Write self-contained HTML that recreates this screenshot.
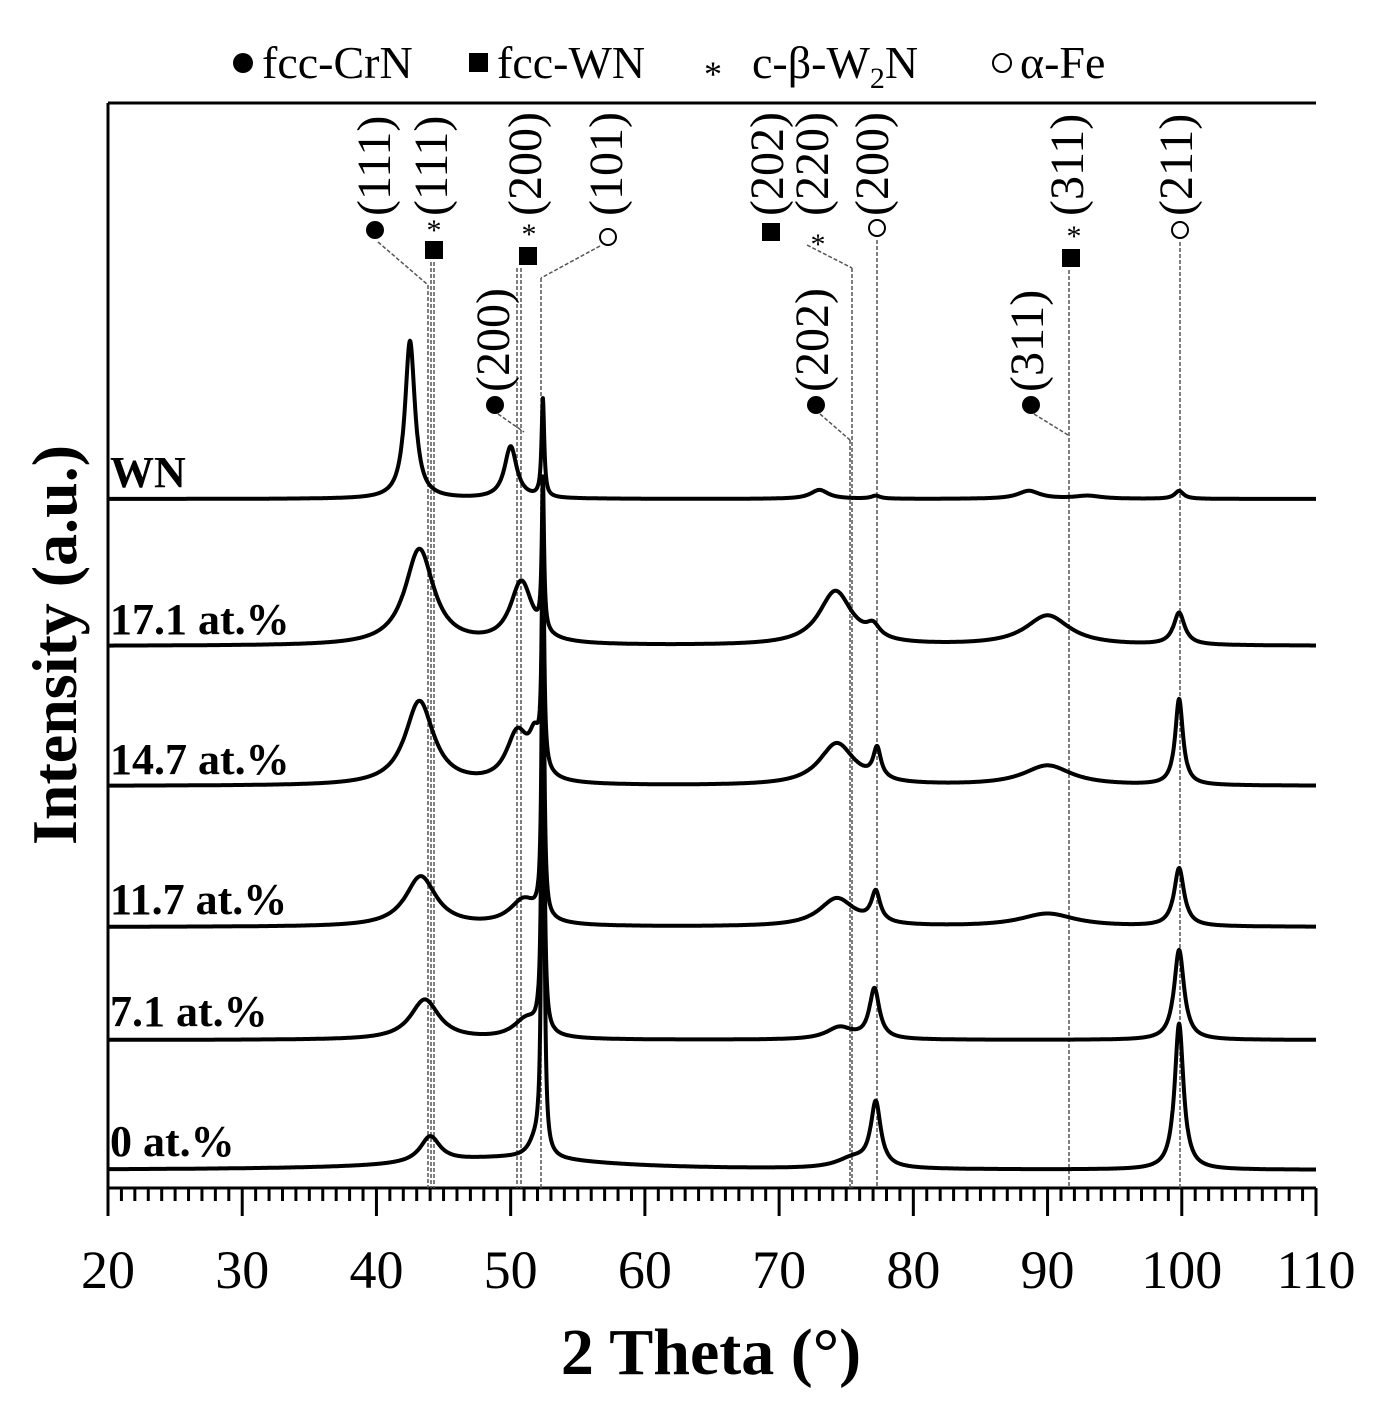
<!DOCTYPE html>
<html><head><meta charset="utf-8"><style>
html,body{margin:0;padding:0;background:#fff}
svg{display:block;font-family:"Liberation Serif",serif}
</style></head><body>
<svg id="chart" width="1392" height="1404" viewBox="0 0 1392 1404" xmlns="http://www.w3.org/2000/svg">
<g id="legend" font-size="46">
 <circle cx="243" cy="63" r="10" fill="#000"/>
 <text x="262" y="78">fcc-CrN</text>
 <rect x="469" y="53" width="19" height="19" fill="#000"/>
 <text x="497" y="78">fcc-WN</text>
 <text x="704" y="86" font-size="36">*</text>
 <text x="752" y="78">c-β-W<tspan font-size="30" dy="10">2</tspan><tspan dy="-10">N</tspan></text>
 <circle cx="1002" cy="63" r="9" fill="none" stroke="#000" stroke-width="2"/>
 <text x="1020" y="78">α-Fe</text>
</g>
<g id="frame" stroke="#000" stroke-width="3" fill="none">
 <line x1="108" y1="103" x2="1316" y2="103"/>
 <line x1="108" y1="103" x2="108" y2="1216"/>
 <line x1="108" y1="1188" x2="1316" y2="1188"/>
</g>
<g id="ticks"></g>
<g id="annot"></g>
<g id="series"></g>
<text transform="translate(76,645) rotate(-90)" text-anchor="middle" font-size="64" font-weight="bold">Intensity (a.u.)</text>
<text x="711" y="1374" text-anchor="middle" font-size="66" font-weight="bold">2 Theta (°)</text>
</svg>
<script>
const NS="http://www.w3.org/2000/svg";
const tickValues=[20,30,40,50,60,70,80,90,100,110];
const seriesNames=["WN","17.1 at.%","14.7 at.%","11.7 at.%","7.1 at.%","0 at.%"];
const baselines=[499,646,786,927,1040,1170];
const labelY=[487,634,774,914,1026,1156];
// peaks: [center(2θ), height(px), halfwidth(°)]
const peaksWN=[[42.5,158,0.45],[50.0,52,0.55],[52.4,98,0.12],[73.0,9,0.8],[77.2,3,0.4],[88.6,8,1.0],[93,3,1.2],[99.8,8,0.4]];
const peaks171=[[43.2,96,1.3],[50.8,62,1.0],[52.4,150,0.1],[74.2,54,1.5],[77.0,12,0.6],[90.0,30,2.0],[99.8,32,0.5]];
const peaks147=[[43.2,84,1.3],[50.5,50,1.0],[51.8,36,0.5],[52.4,250,0.1],[74.3,42,1.6],[77.3,30,0.35],[90.0,20,2.2],[99.8,86,0.35]];
const peaks117=[[43.3,50,1.4],[51.0,26,1.3],[52.4,380,0.1],[74.3,28,1.6],[77.2,30,0.4],[90.0,13,2.5],[99.8,58,0.45]];
const peaks71=[[43.6,40,1.3],[51.2,20,1.2],[52.4,490,0.1],[74.5,12,1.2],[77.1,50,0.45],[99.8,90,0.45]];
const peaks0=[[44.0,26,0.9],[50.0,12,8],[51.8,14,0.6],[52.4,640,0.1],[75.5,10,1.5],[77.2,64,0.45],[99.8,146,0.4]];
const allPeaks=[peaksWN,peaks171,peaks147,peaks117,peaks71,peaks0];
const X0=20,X1=110,PX0=108,PX1=1316;
function xs(v){return PX0+(v-X0)/(X1-X0)*(PX1-PX0);}
function mk(tag,attrs,parent){const e=document.createElementNS(NS,tag);for(const k in attrs)e.setAttribute(k,attrs[k]);parent.appendChild(e);return e;}
const tg=document.getElementById('ticks');
for(let v=20;v<=110;v++){
 const major=v%10===0;
 const l=mk('line',{x1:xs(v),x2:xs(v),y1:1188,y2:major?1216:1201,stroke:'#000','stroke-width':3},tg);
 
 
}
tickValues.forEach(v=>{
 const t=mk('text',{x:xs(v),y:1288,'text-anchor':'middle','font-size':54},tg);
 
 
 t.textContent=v;
});
const sg=document.getElementById('series');
allPeaks.forEach((pk,i)=>{
 let d="";
 for(let x=20;x<=110.001;x+=0.03){
  let y=baselines[i];
  for(const p of pk){const u=(x-p[0])/p[2];y-=p[1]/(1+u*u);}
  d+=(d?"L":"M")+xs(x).toFixed(1)+","+y.toFixed(1);
 }
 const p=mk('path',{d:d,fill:'none',stroke:'#000','stroke-width':4,'stroke-linejoin':'round'},sg);
 
 
 const t=mk('text',{x:110,y:labelY[i],'font-size':44,'font-weight':'bold'},sg);
 
 
 t.textContent=seriesNames[i];
});
const ag=document.getElementById('annot');
function vline(x,y1){const l=mk('line',{x1:x,x2:x,y1:y1,y2:1188,stroke:'#555','stroke-width':1.5,'stroke-dasharray':'4,2'},ag);}
function lead(x1,y1,x2,y2){const l=mk('line',{x1,y1,x2,y2,stroke:'#555','stroke-width':1.5,'stroke-dasharray':'4,2'},ag);}
function lbl(x,yb,txt){const t=mk('text',{transform:`translate(${x+15},${yb}) rotate(-90)`,'font-size':48},ag);t.textContent=txt;}
function dot(x,y){const c=mk('circle',{cx:x,cy:y,r:9,fill:'#000'},ag);}
function ring(x,y){const c=mk('circle',{cx:x,cy:y,r:8,fill:'#fff',stroke:'#000','stroke-width':2},ag);}
function sq(x,y){const r=mk('rect',{x:x-9,y:y-9,width:18,height:18,fill:'#000'},ag);}
function star(x,y){const t=mk('text',{x:x,y:y+14,'text-anchor':'middle','font-size':30},ag);t.textContent='*';}
lbl(375,216,'(111)');dot(375,230);lead(378,242,428,285);vline(428,285);vline(431,262);
lbl(432,216,'(111)');star(434,226);sq(434,250);vline(434,262);
lbl(526,216,'(200)');star(529,230);sq(528,256);vline(517,268);vline(521,268);
lbl(607,216,'(101)');ring(608,237);lead(600,246,541,278);vline(541,278);
lbl(768,216,'(202)');sq(771,232);
lbl(813,216,'(220)');star(818,240);lead(807,245,852,268);vline(852,268);
lbl(873,216,'(200)');ring(877,228);vline(877,240);
lbl(1068,216,'(311)');star(1074,232);sq(1071,258);vline(1069,270);
lbl(1177,216,'(211)');ring(1180,230);vline(1180,242);
lbl(494,392,'(200)');dot(495,405);lead(498,414,524,432);
lbl(813,392,'(202)');dot(816,405);lead(820,414,850,440);vline(850,440);
lbl(1028,392,'(311)');dot(1031,405);lead(1034,414,1068,435);
</script>
</body></html>
